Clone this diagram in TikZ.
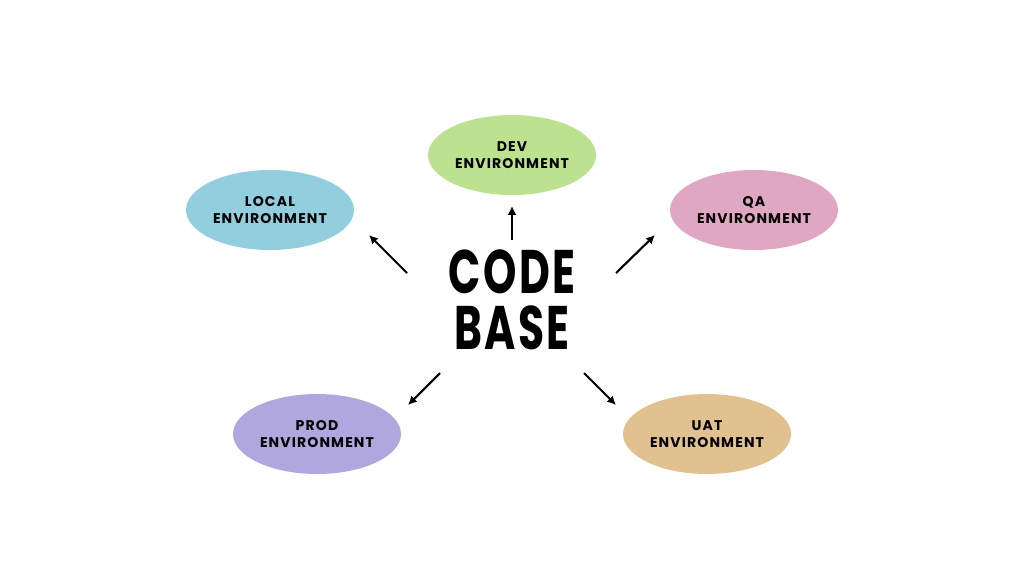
\documentclass[tikz,border=0pt]{standalone}
\usepackage{fontspec}
\usepackage{tikz}
\usetikzlibrary{shapes.geometric, arrows.meta}
\setmainfont{Poppins}[LetterSpace=8]
\newfontfamily\bigfont{Poppins}[FakeStretch=0.69, LetterSpace=4]
\definecolor{devgreen}  {RGB}{188, 225, 143}
\definecolor{localblue} {RGB}{146, 206, 222}
\definecolor{qapink}    {RGB}{223, 167, 194}
\definecolor{prodpurple}{RGB}{176, 167, 223}
\definecolor{uattan}    {RGB}{224, 193, 143}

\begin{document}
\begin{tikzpicture}[x=0.02cm, y=-0.02cm, env/.style={ellipse, minimum width=3.36cm, minimum height=1.6cm, inner sep=0pt, align=center, font=\fontsize{8}{10}\selectfont\bfseries}, arr/.style={-{Latex[length=5pt, width=5pt]}, line width=1.2pt}]
        \useasboundingbox (0,0) rectangle (1024,576);
        \node (code) [align=center, font=\bigfont\fontsize{35}{32}\selectfont\bfseries] at (512,300) {CODE\\BASE};
        \node (dev) [env, fill=devgreen] at (512,155) {DEV\\ENVIRONMENT};
        \node (local) [env, fill=localblue] at (270,210) {LOCAL\\ENVIRONMENT};
        \node (qa) [env, fill=qapink] at (754,210) {QA\\ENVIRONMENT};
        \node (prod) [env, fill=prodpurple] at (317,434) {PROD\\ENVIRONMENT};
        \node (uat) [env, fill=uattan] at (707,434) {UAT\\ENVIRONMENT};
        
        \coordinate (devtail) at (512,240);  \coordinate (devhead) at (512,206);
        \coordinate (localtail) at (407,273); \coordinate (localhead) at (369,235);
        \coordinate (qatail) at (616,273);  \coordinate (qahead) at (655,235);
        \coordinate (prodtail) at (440,373); \coordinate (prodhead) at (408,405);
        \coordinate (uattail) at (584,373);  \coordinate (uathead) at (616,405);
        
        \draw[arr] (devtail) -- (devhead);
        \draw[arr] (localtail) -- (localhead);
        \draw[arr] (qatail) -- (qahead);
        \draw[arr] (prodtail) -- (prodhead);
        \draw[arr] (uattail) -- (uathead);
    \end{tikzpicture}
\end{document}
